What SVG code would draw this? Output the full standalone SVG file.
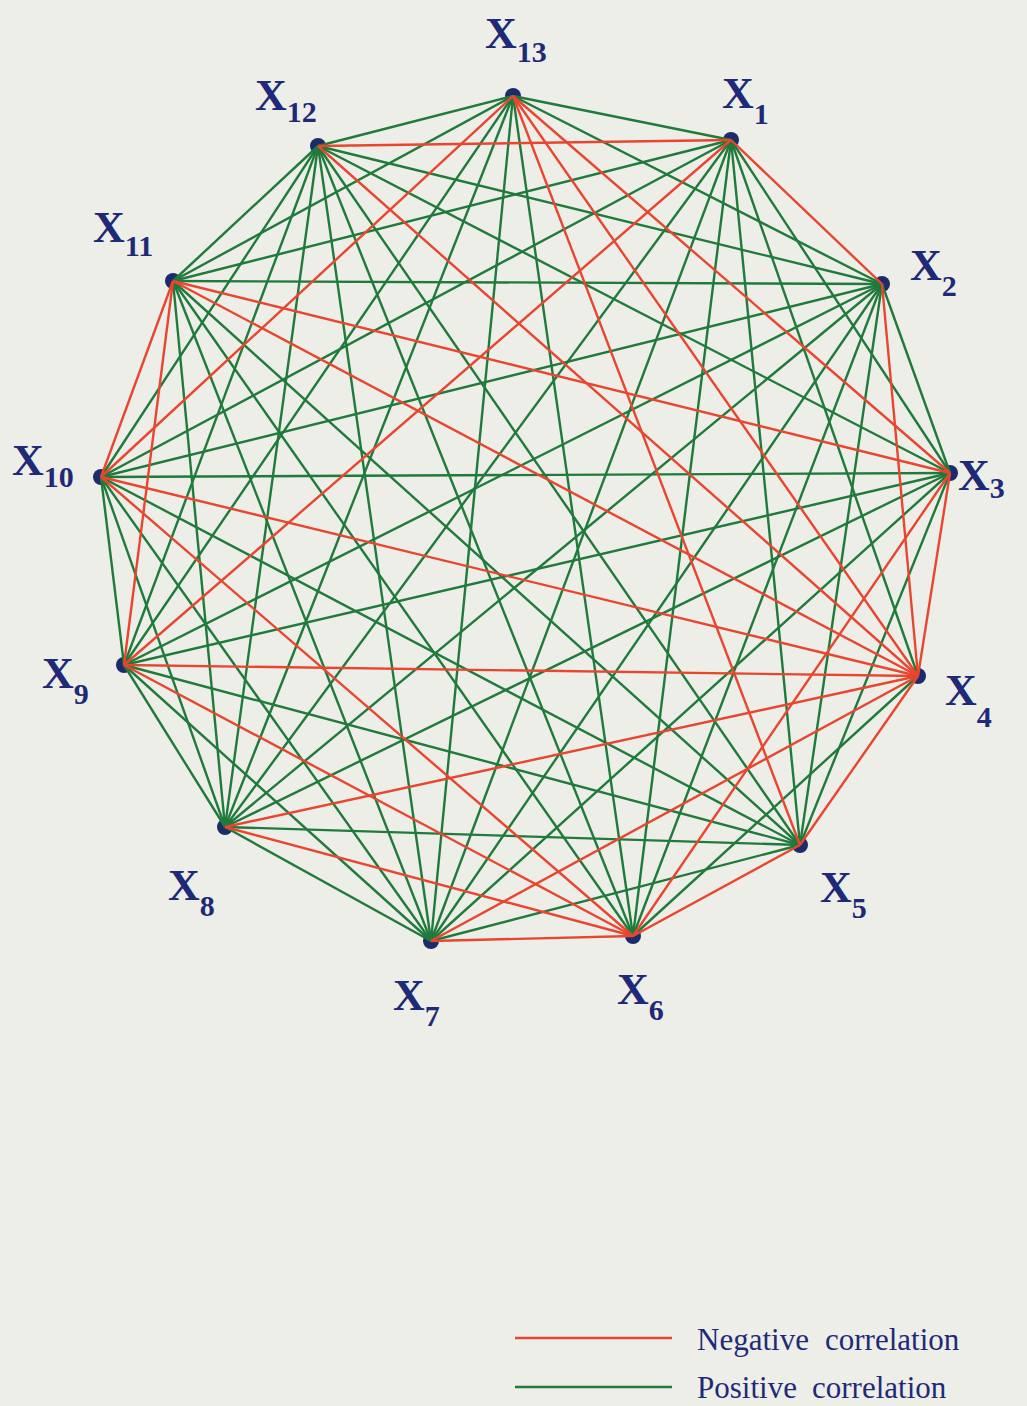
<svg xmlns="http://www.w3.org/2000/svg" width="1027" height="1406" viewBox="0 0 1027 1406">
<style>
.g{stroke:#1f7a3b;stroke-width:2.4;fill:none}
.r{stroke:#e8462f;stroke-width:2.4;fill:none}
.dot{fill:#1b2b6b}
.lb{font-family:"Liberation Serif","Times New Roman",serif;font-weight:bold;fill:#1e2a78;font-size:44px}
.sb{font-size:30px}
.lg{font-family:"Liberation Serif","Times New Roman",serif;fill:#1e2a78;font-size:31px}
</style>
<rect width="1027" height="1406" fill="#eeeee9"/>
<g id="nodes">
<g id="n1"><circle class="dot" cx="731" cy="140" r="8"/><text class="lb" x="722" y="108">X<tspan class="sb" dy="16">1</tspan></text></g>
<g id="n2"><circle class="dot" cx="882" cy="284" r="8"/><text class="lb" x="910" y="280">X<tspan class="sb" dy="16">2</tspan></text></g>
<g id="n3"><circle class="dot" cx="950" cy="473" r="8"/><text class="lb" x="958" y="490">X<tspan class="sb" dy="8">3</tspan></text></g>
<g id="n4"><circle class="dot" cx="918" cy="676" r="8"/><text class="lb" x="945" y="705">X<tspan class="sb" dy="22">4</tspan></text></g>
<g id="n5"><circle class="dot" cx="800" cy="845" r="8"/><text class="lb" x="820" y="902">X<tspan class="sb" dy="16">5</tspan></text></g>
<g id="n6"><circle class="dot" cx="633" cy="936" r="8"/><text class="lb" x="617" y="1004">X<tspan class="sb" dy="16">6</tspan></text></g>
<g id="n7"><circle class="dot" cx="431" cy="941" r="8"/><text class="lb" x="393" y="1010">X<tspan class="sb" dy="16">7</tspan></text></g>
<g id="n8"><circle class="dot" cx="225" cy="827" r="8"/><text class="lb" x="168" y="900">X<tspan class="sb" dy="16">8</tspan></text></g>
<g id="n9"><circle class="dot" cx="124" cy="665" r="8"/><text class="lb" x="42" y="688">X<tspan class="sb" dy="16">9</tspan></text></g>
<g id="n10"><circle class="dot" cx="101" cy="477" r="8"/><text class="lb" x="12" y="475">X<tspan class="sb" dy="12">10</tspan></text></g>
<g id="n11"><circle class="dot" cx="173" cy="281" r="8"/><text class="lb" x="93" y="242">X<tspan class="sb" dy="14">11</tspan></text></g>
<g id="n12"><circle class="dot" cx="318" cy="146" r="8"/><text class="lb" x="255" y="110">X<tspan class="sb" dy="12">12</tspan></text></g>
<g id="n13"><circle class="dot" cx="513" cy="96" r="8"/><text class="lb" x="485" y="48">X<tspan class="sb" dy="14">13</tspan></text></g>
</g>
<g id="connectors">
<line class="g" x1="731" y1="140" x2="950" y2="473"/>
<line class="g" x1="731" y1="140" x2="918" y2="676"/>
<line class="g" x1="731" y1="140" x2="800" y2="845"/>
<line class="g" x1="731" y1="140" x2="633" y2="936"/>
<line class="g" x1="731" y1="140" x2="431" y2="941"/>
<line class="g" x1="731" y1="140" x2="225" y2="827"/>
<line class="g" x1="731" y1="140" x2="101" y2="477"/>
<line class="g" x1="731" y1="140" x2="173" y2="281"/>
<line class="g" x1="731" y1="140" x2="513" y2="96"/>
<line class="g" x1="882" y1="284" x2="950" y2="473"/>
<line class="g" x1="882" y1="284" x2="800" y2="845"/>
<line class="g" x1="882" y1="284" x2="633" y2="936"/>
<line class="g" x1="882" y1="284" x2="431" y2="941"/>
<line class="g" x1="882" y1="284" x2="225" y2="827"/>
<line class="g" x1="882" y1="284" x2="124" y2="665"/>
<line class="g" x1="882" y1="284" x2="101" y2="477"/>
<line class="g" x1="882" y1="284" x2="173" y2="281"/>
<line class="g" x1="882" y1="284" x2="318" y2="146"/>
<line class="g" x1="882" y1="284" x2="513" y2="96"/>
<line class="g" x1="950" y1="473" x2="800" y2="845"/>
<line class="g" x1="950" y1="473" x2="431" y2="941"/>
<line class="g" x1="950" y1="473" x2="225" y2="827"/>
<line class="g" x1="950" y1="473" x2="124" y2="665"/>
<line class="g" x1="950" y1="473" x2="101" y2="477"/>
<line class="g" x1="950" y1="473" x2="318" y2="146"/>
<line class="g" x1="918" y1="676" x2="633" y2="936"/>
<line class="g" x1="800" y1="845" x2="431" y2="941"/>
<line class="g" x1="800" y1="845" x2="225" y2="827"/>
<line class="g" x1="800" y1="845" x2="124" y2="665"/>
<line class="g" x1="800" y1="845" x2="101" y2="477"/>
<line class="g" x1="800" y1="845" x2="173" y2="281"/>
<line class="g" x1="800" y1="845" x2="318" y2="146"/>
<line class="g" x1="633" y1="936" x2="173" y2="281"/>
<line class="g" x1="633" y1="936" x2="318" y2="146"/>
<line class="g" x1="633" y1="936" x2="513" y2="96"/>
<line class="g" x1="431" y1="941" x2="225" y2="827"/>
<line class="g" x1="431" y1="941" x2="124" y2="665"/>
<line class="g" x1="431" y1="941" x2="101" y2="477"/>
<line class="g" x1="431" y1="941" x2="173" y2="281"/>
<line class="g" x1="431" y1="941" x2="318" y2="146"/>
<line class="g" x1="431" y1="941" x2="513" y2="96"/>
<line class="g" x1="225" y1="827" x2="124" y2="665"/>
<line class="g" x1="225" y1="827" x2="101" y2="477"/>
<line class="g" x1="225" y1="827" x2="173" y2="281"/>
<line class="g" x1="225" y1="827" x2="318" y2="146"/>
<line class="g" x1="225" y1="827" x2="513" y2="96"/>
<line class="g" x1="124" y1="665" x2="101" y2="477"/>
<line class="g" x1="124" y1="665" x2="318" y2="146"/>
<line class="g" x1="124" y1="665" x2="513" y2="96"/>
<line class="g" x1="101" y1="477" x2="318" y2="146"/>
<line class="g" x1="173" y1="281" x2="318" y2="146"/>
<line class="g" x1="173" y1="281" x2="513" y2="96"/>
<line class="g" x1="318" y1="146" x2="513" y2="96"/>
<line class="r" x1="731" y1="140" x2="882" y2="284"/>
<line class="r" x1="731" y1="140" x2="124" y2="665"/>
<line class="r" x1="731" y1="140" x2="318" y2="146"/>
<line class="r" x1="882" y1="284" x2="918" y2="676"/>
<line class="r" x1="950" y1="473" x2="918" y2="676"/>
<line class="r" x1="950" y1="473" x2="633" y2="936"/>
<line class="r" x1="950" y1="473" x2="173" y2="281"/>
<line class="r" x1="950" y1="473" x2="513" y2="96"/>
<line class="r" x1="918" y1="676" x2="800" y2="845"/>
<line class="r" x1="918" y1="676" x2="431" y2="941"/>
<line class="r" x1="918" y1="676" x2="225" y2="827"/>
<line class="r" x1="918" y1="676" x2="124" y2="665"/>
<line class="r" x1="918" y1="676" x2="101" y2="477"/>
<line class="r" x1="918" y1="676" x2="173" y2="281"/>
<line class="r" x1="918" y1="676" x2="318" y2="146"/>
<line class="r" x1="918" y1="676" x2="513" y2="96"/>
<line class="r" x1="800" y1="845" x2="633" y2="936"/>
<line class="r" x1="800" y1="845" x2="513" y2="96"/>
<line class="r" x1="633" y1="936" x2="431" y2="941"/>
<line class="r" x1="633" y1="936" x2="225" y2="827"/>
<line class="r" x1="633" y1="936" x2="124" y2="665"/>
<line class="r" x1="633" y1="936" x2="101" y2="477"/>
<line class="r" x1="124" y1="665" x2="173" y2="281"/>
<line class="r" x1="101" y1="477" x2="173" y2="281"/>
<line class="r" x1="101" y1="477" x2="513" y2="96"/>
</g>
<g id="legend">
<line class="r" x1="515" y1="1338" x2="672" y2="1338"/>
<text class="lg" x="697" y="1350">Negative<tspan x="825">correlation</tspan></text>
<line class="g" x1="515" y1="1387" x2="672" y2="1387"/>
<text class="lg" x="697" y="1398">Positive<tspan x="812">correlation</tspan></text>
</g>
</svg>
